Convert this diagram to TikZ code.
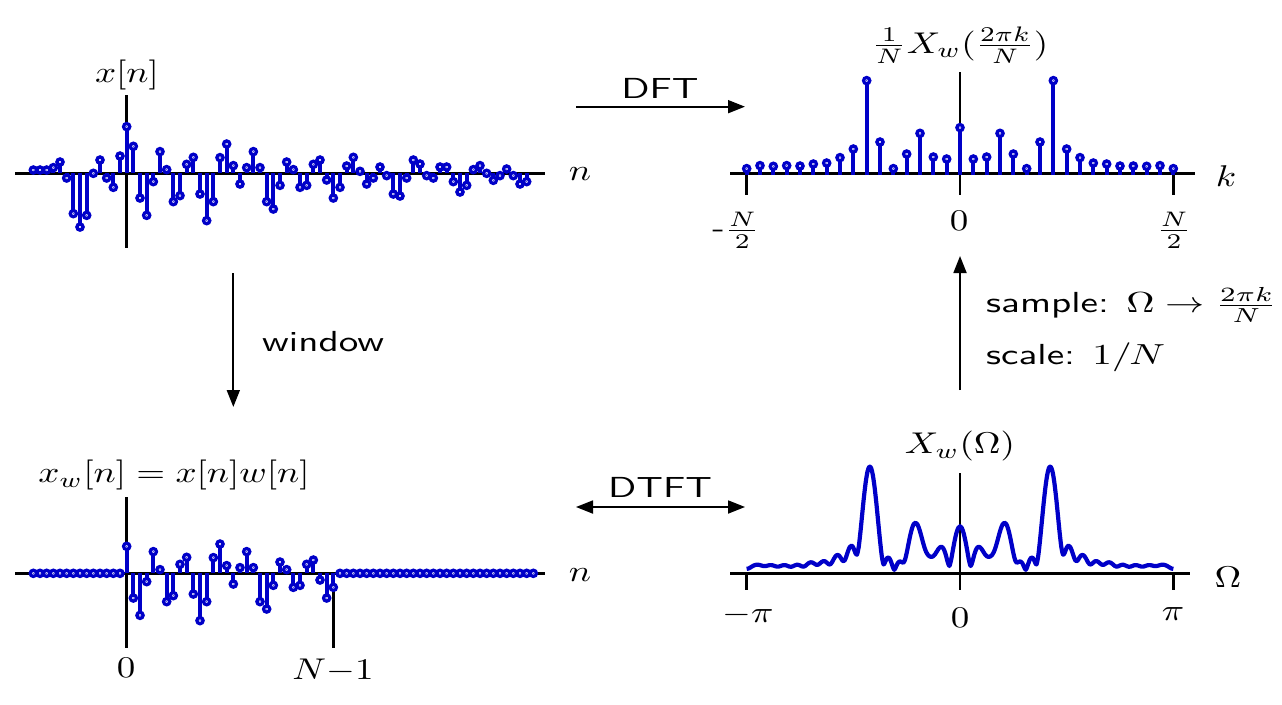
\documentclass[tikz,border=0pt]{standalone}
\usepackage{graphicx}
\usetikzlibrary{arrows.meta}
\definecolor{plotblue}{RGB}{0,0,200}
\newcommand\st[1]{\scalebox{3.7}[3.0]{#1}}
\newcommand\sts[1]{\scalebox{3.915}[2.9]{\sffamily #1}}
% windowed sequence (scaled), n = 0..31
\def\xwvals{0.27,-0.247,-0.42,-0.083,0.217,0.037,-0.283,-0.223,0.09,0.16,-0.207,-0.473,-0.283,0.157,0.293,0.077,-0.107,0.057,0.217,0.057,-0.283,-0.357,-0.12,0.113,0.037,-0.14,-0.12,0.09,0.133,-0.067,-0.247,-0.14}
\def\curvepts{}
\def\curvemax{0.001}
\foreach \j in {0,...,240}{%
  \pgfmathsetmacro\myom{-180+1.5*\j}%
  \gdef\myre{0}\gdef\myim{0}%
  \foreach \v [count=\n from 0] in \xwvals {%
    \pgfmathsetmacro\myt{\n*\myom}%
    \pgfmathsetmacro\mya{\myre+\v*cos(\myt)}\global\let\myre\mya
    \pgfmathsetmacro\myb{\myim+\v*sin(\myt)}\global\let\myim\myb
  }%
  \pgfmathsetmacro\mym{veclen(\myre,\myim)}%
  \pgfmathsetmacro\mymx{max(\curvemax,\mym)}\global\let\curvemax\mymx
  \xdef\curvepts{\curvepts(\myom,-\mym)}%
}
\tikzset{
  axisline/.style={line width=2.4pt,black},
  stemline/.style={line width=3.8pt,plotblue},
  mkr/.style={draw=plotblue,fill=white,line width=3.3pt},
  lab/.style={inner sep=0pt},
  arr/.style={line width=1.8pt,-{Triangle[length=17pt,width=13pt]}},
  darr/.style={line width=1.8pt,{Triangle[length=17pt,width=13pt]}-{Triangle[length=17pt,width=13pt]}},
  curveline/.style={line width=4.2pt,plotblue,line join=round}
}
\begin{document}
\begin{tikzpicture}[x=1pt,y=-1pt]
\useasboundingbox (0,0) rectangle (1282,704);
% ---------------- top-left: x[n]
\draw[axisline] (15,173.33) -- (545,173.33);
\draw[axisline] (126.67,95) -- (126.67,248);
\foreach \v [count=\i from -14] in {3.3,3.3,3.3,5.7,11.3,-4.7,-40.3,-53.7,-42,0,13.3,-4.7,-14,17.3,46.7,27,-24.7,-42,-8.3,21.7,3.7,-28.3,-22.3,9,16,-20.7,-47.3,-28.3,15.7,29.3,7.7,-10.7,5.7,21.7,5.7,-28.3,-35.7,-12,11.3,3.7,-14,-12,9,13.3,-6.7,-24.7,-14,7.3,16,2,-10.7,-4.7,6.3,-2.3,-20.7,-22.7,-4.7,13.3,9.3,-2.3,-4.7,6.3,6.3,-8.3,-18.7,-12,3.7,7.7,0,-7,-2.3,4.3,-2.3,-10.7,-8.3}
  \draw[stemline] (126.67+6.6667*\i,173.33) -- ++(0,-\v);
\foreach \v [count=\i from -14] in {3.3,3.3,3.3,5.7,11.3,-4.7,-40.3,-53.7,-42,0,13.3,-4.7,-14,17.3,46.7,27,-24.7,-42,-8.3,21.7,3.7,-28.3,-22.3,9,16,-20.7,-47.3,-28.3,15.7,29.3,7.7,-10.7,5.7,21.7,5.7,-28.3,-35.7,-12,11.3,3.7,-14,-12,9,13.3,-6.7,-24.7,-14,7.3,16,2,-10.7,-4.7,6.3,-2.3,-20.7,-22.7,-4.7,13.3,9.3,-2.3,-4.7,6.3,6.3,-8.3,-18.7,-12,3.7,7.7,0,-7,-2.3,4.3,-2.3,-10.7,-8.3}
  {\draw[mkr] (126.67+6.6667*\i,173.33-\v) circle[radius=3.1pt];
   \fill[plotblue] (126.67+6.6667*\i,173.33-\v) circle[radius=0.5pt];}
\node[lab] (xtitle) at (127,75) {\st{$x[n]$}};
\node[lab] (xn) at (580,174) {\st{$n$}};
% ---------------- bottom-left: x_w[n]
\draw[axisline] (15,573.33) -- (545,573.33);
\draw[axisline] (126.67,497) -- (126.67,648);
\draw[axisline] (333.33,573.33) -- (333.33,648);
\foreach \v [count=\i from -14] in {0,0,0,0,0,0,0,0,0,0,0,0,0,0,27,-24.7,-42,-8.3,21.7,3.7,-28.3,-22.3,9,16,-20.7,-47.3,-28.3,15.7,29.3,7.7,-10.7,5.7,21.7,5.7,-28.3,-35.7,-12,11.3,3.7,-14,-12,9,13.3,-6.7,-24.7,-14,0,0,0,0,0,0,0,0,0,0,0,0,0,0,0,0,0,0,0,0,0,0,0,0,0,0,0,0,0,0}
  \draw[stemline] (126.67+6.6667*\i,573.33) -- ++(0,-\v);
\foreach \v [count=\i from -14] in {0,0,0,0,0,0,0,0,0,0,0,0,0,0,27,-24.7,-42,-8.3,21.7,3.7,-28.3,-22.3,9,16,-20.7,-47.3,-28.3,15.7,29.3,7.7,-10.7,5.7,21.7,5.7,-28.3,-35.7,-12,11.3,3.7,-14,-12,9,13.3,-6.7,-24.7,-14,0,0,0,0,0,0,0,0,0,0,0,0,0,0,0,0,0,0,0,0,0,0,0,0,0,0,0,0,0,0}
  {\draw[mkr] (126.67+6.6667*\i,573.33-\v) circle[radius=3.1pt];
   \fill[plotblue] (126.67+6.6667*\i,573.33-\v) circle[radius=0.5pt];}
\node[lab] (xwtitle) at (174,475) {\st{$x_w[n]=x[n]w[n]$}};
\node[lab] (xwn) at (580,575) {\st{$n$}};
\node[lab] (xw0) at (126,668) {\st{$0$}};
\node[lab] (xwN) at (333,670) {\st{$N{-}1$}};
% ---------------- top-right: DFT samples
\draw[axisline] (730,173.33) -- (1195,173.33);
\draw[axisline] (960,72) -- (960,195);
\draw[axisline] (746.67,173.33) -- (746.67,195);
\draw[axisline] (1173.33,173.33) -- (1173.33,195);
\foreach \v [count=\i from -16] in {4.7,7.7,7,7.7,7.3,9.3,10.3,15.7,24.3,92.7,31.3,4.7,19.3,40,16.3,14.3,45.7,14.3,16.3,40,19.3,4.7,31.3,92.7,24.3,15.7,10.3,9.3,7.3,7.3,7,7.7,4.7}
  \draw[stemline] (960+13.333*\i,175) -- (960+13.333*\i,173.33-\v);
\foreach \v [count=\i from -16] in {4.7,7.7,7,7.7,7.3,9.3,10.3,15.7,24.3,92.7,31.3,4.7,19.3,40,16.3,14.3,45.7,14.3,16.3,40,19.3,4.7,31.3,92.7,24.3,15.7,10.3,9.3,7.3,7.3,7,7.7,4.7}
  {\draw[mkr] (960+13.333*\i,173.33-\v) circle[radius=3.1pt];
   \fill[plotblue] (960+13.333*\i,173.33-\v) circle[radius=0.5pt];}
\node[lab] (Xktitle) at (960,45) {\st{$\frac{1}{N}X_w(\frac{2\pi k}{N})$}};
\node[lab] (kk) at (1226,176) {\st{$k$}};
\node[lab,anchor=east] (kmin) at (760,230) {\st{-$\frac{N}{2}$}};
\node[lab] (k0) at (959,221) {\st{$0$}};
\node[lab] (kmax) at (1174,230) {\st{$\frac{N}{2}$}};
% ---------------- bottom-right: DTFT
\draw[axisline] (730,573.33) -- (1190,573.33);
\draw[axisline] (960,473) -- (960,590);
\draw[axisline] (746.67,573.33) -- (746.67,590);
\draw[axisline] (1173.33,573.33) -- (1173.33,590);
\pgfmathsetmacro\yscl{106.7/\curvemax}
\begin{scope}[shift={(960,573.33)},xscale=1.18519,yscale=\yscl]
  \draw[curveline] plot[smooth] coordinates {\curvepts};
\end{scope}
\node[lab] (Xwtitle) at (960,446) {\st{$X_w(\Omega)$}};
\node[lab] (om) at (1228,577) {\st{$\Omega$}};
\node[lab] (ommin) at (748,615) {\st{$-\pi$}};
\node[lab] (om0) at (960,618) {\st{$0$}};
\node[lab] (ommax) at (1173,614) {\st{$\pi$}};
% ---------------- arrows
\coordinate (dftA) at (576,106.67);
\coordinate (dftB) at (745,106.67);
\draw[arr] (dftA) -- (dftB);
\node[lab] (dftlab) at (660,88) {\sts{DFT}};
\coordinate (winA) at (233.33,273);
\coordinate (winB) at (233.33,407);
\draw[arr] (winA) -- (winB);
\node[lab,anchor=west] (winlab) at (262,342) {\sts{window}};
\coordinate (dtftA) at (576,507);
\coordinate (dtftB) at (745,507);
\draw[darr] (dtftA) -- (dtftB);
\node[lab] (dtftlab) at (660,487) {\sts{DTFT}};
\coordinate (smpA) at (960,390);
\coordinate (smpB) at (960,256);
\draw[arr] (smpA) -- (smpB);
\node[lab,anchor=west] (smplab) at (986,305) {\sts{sample: $\Omega\rightarrow\frac{2\pi k}{N}$}};
\node[lab,anchor=west] (scllab) at (986,357) {\sts{scale: $1/N$}};
\end{tikzpicture}
\end{document}
